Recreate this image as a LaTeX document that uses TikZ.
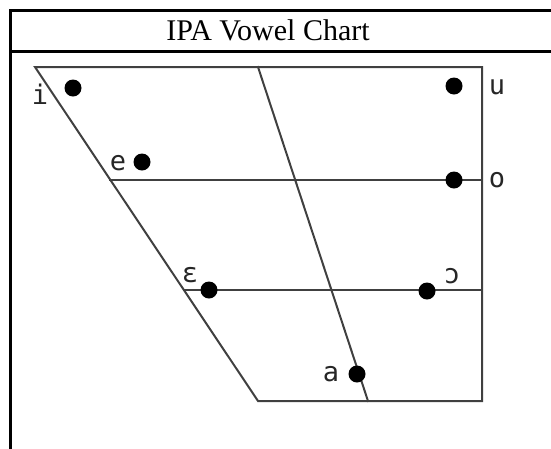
\documentclass[tikz,border=0pt]{standalone}
\usepackage{fontspec}
\setmainfont{Liberation Serif}
\newfontfamily\ipafont{DejaVu Sans Mono}
\usetikzlibrary{positioning}

\begin{document}
\begin{tikzpicture}[x=1pt, y=-1pt,
      frame/.style={draw=black, line width=3pt},
      grid/.style={draw=black!75, line width=2pt, line cap=rect},
      vowel/.style={circle, fill=black, inner sep=0pt, minimum size=17pt},
      lbl/.style={font=\ipafont\fontsize{27}{27}\selectfont, inner sep=0pt, text=black!85},
    ]
    \useasboundingbox (0,0) rectangle (551,448);
    \clip (0,0) rectangle (551,448);

    % table
    \draw[frame] (10,470) -- (10,10) -- (570,10);
    \draw[frame] (10,51) -- (570,51);
    \node[font=\fontsize{30}{30}\selectfont] (title) at (268,30) {IPA Vowel Chart};

    % trapezoid
    \coordinate (tl) at (35,67);
    \coordinate (tr) at (482,67);
    \coordinate (br) at (482,401);
    \coordinate (bl) at (258,401);
    \coordinate (mt) at (258,67);
    \coordinate (mb) at (368,401);
    \coordinate (ml1) at (110.4,180);
    \coordinate (mr1) at (482,180);
    \coordinate (ml2) at (183.9,290);
    \coordinate (mr2) at (482,290);

    \draw[grid, line join=miter] (bl) -- (tl) -- (tr) -- (br) -- cycle;
    \draw[grid] (mt) -- (mb);
    \draw[grid] (ml1) -- (mr1);
    \draw[grid] (ml2) -- (mr2);

    % vowels
    \node[vowel] (i) at (73,88) {};
    \node[vowel] (e) at (142,162) {};
    \node[vowel] (u) at (454,86) {};
    \node[vowel] (o) at (454,180) {};
    \node[vowel] (eps) at (209,290) {};
    \node[vowel] (oo) at (427,291) {};
    \node[vowel] (a) at (357,374) {};

    \node[lbl] (i_l) at (40,94) {i};
    \node[lbl] (e_l) at (118,163) {e};
    \node[lbl] (u_l) at (497,87) {u};
    \node[lbl] (o_l) at (497,180) {o};
    \node[lbl] (eps_l) at (190,275) {ɛ};
    \node[lbl] (oo_l) at (452,276) {ɔ};
    \node[lbl] (a_l) at (331,374) {a};
  \end{tikzpicture}
\end{document}
